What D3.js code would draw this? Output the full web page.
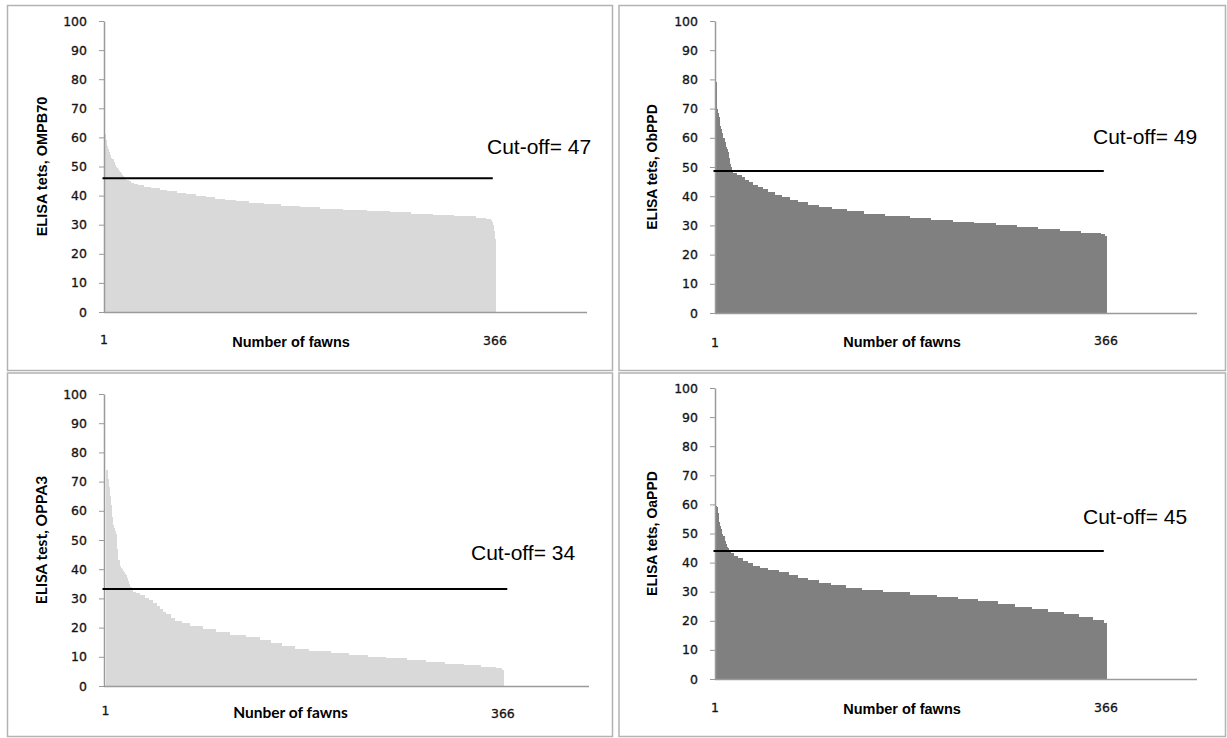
<!DOCTYPE html>
<html>
<head>
<meta charset="utf-8">
<script src="https://cdn.jsdelivr.net/npm/d3@7"></script>
<style>
  body { margin: 0; background: #fff; }
  svg { display: block; }
</style>
</head>
<body>
<svg width="1227" height="738"></svg>
<script>
// ELISA readings of the 366 fawns, sorted high to low.
// Each entry is [value, number of fawns in a row with that value].
let ompb70Runs = [
  [61,1],[59,1],[57,1],[56,1],[55,1],[54,1],[53,1],[52.5,1],[51.5,1],[50.5,1],
  [50,1],[49.5,1],[49,1],[48.5,1],[48,1],[47.6,1],[47.2,1],[46.8,1],[46.4,1],[46,1],
  [45.5,2],[45,2],[44.5,3],[44,4],[43.5,5],[43,7],[42.5,8],[42,7],[41.5,9],[41,9],
  [40.5,9],[40,9],[39.5,9],[39,9],[38.5,10],[38,12],[37.5,14],[37,16],[36.5,18],[36,19],
  [35.5,21],[35,23],[34.7,21],[34.2,20],[33.7,20],[33.3,20],[32.9,20],[32.4,10],[32,4],
  [31.5,1],[31,1],[30,1],[28,1],[25,1],[22,1]
];
let obppdRuns = [
  [79,1],[70,1],[68.5,1],[67,1],[64,1],[63,1],[61.5,1],[60,1],[58.5,1],[57,1],
  [56,1],[55,1],[53,1],[51,1],[50,1],[48.5,1],
  [48,4],[47.3,4],[46.5,3],[45.7,4],[44.8,4],[44,4],[43.2,5],[42.3,5],[41.5,6],[40.5,7],
  [39.7,7],[38.8,8],[38,9],[37.1,10],[36.3,12],[35.5,14],[34.8,16],[34,20],[33.3,23],
  [32.7,20],[32,20],[31.3,20],[30.7,20],[30,20],[29.4,20],[28.8,20],[28.1,20],[27.5,18],
  [27,4],[26.3,3]
];
let oppa3Runs = [
  [74,1],[71,1],[68,1],[65,1],[62,1],[58,1],[55,1],[54,1],[53,1],[52,1],
  [47,1],[43,1],[41,1],[40.5,1],[40,1],[39.5,1],[39,1],[38.5,1],[38,1],[37,1],
  [36,1],[35,1],[34,1],[33,1],
  [32.3,3],[31.8,4],[31,4],[30.3,4],[29.5,4],[28.5,3],[27.5,3],[26.3,3],[25.3,3],[24.5,4],
  [23.3,4],[22.3,6],[21.5,8],[20.5,12],[19.5,12],[18.5,12],[17.5,15],[16.7,13],[15.7,10],
  [14.7,10],[13.7,12],[12.8,13],[12,20],[11.3,17],[10.7,17],[10.1,17],[9.5,19],[8.8,17],
  [8.2,18],[7.7,17],[7.2,16],[6.6,14],[6.1,5],[5.5,3]
];
let oappdRuns = [
  [59.5,1],[59,1],[57,1],[54,1],[52.5,1],[51.5,1],[50,1],[49,1],[47.5,1],[46.5,1],
  [45.5,1],[45,1],[44.3,1],[43.8,1],
  [43.2,3],[42.3,4],[41.5,4],[40.6,5],[39.7,5],[38.9,6],[38.2,8],[37.4,10],[36.6,9],
  [35.7,9],[34.8,9],[33.9,10],[33,11],[32.2,14],[31.4,15],[30.6,20],[29.8,25],[29,25],
  [28.3,20],[27.5,19],[26.7,18],[25.8,16],[24.9,16],[24,15],[23.1,15],[22.2,14],
  [21.2,13],[20.3,10],[19.3,4]
];

// where the black cut-off line was drawn, and the number written next to it
let cutoffLevels = [46, 48.6, 33.2, 44];
let cutoffLabels = ["Cut-off= 47", "Cut-off= 49", "Cut-off= 34", "Cut-off= 45"];
// the line runs out to roughly this fawn position
let cutoffEnds = [363, 363, 369, 363];

let yTitles = ["ELISA tets, OMPB70", "ELISA tets, ObPPD", "ELISA test, OPPA3", "ELISA tets, OaPPD"];
let xTitles = ["Number of fawns", "Number of fawns", "Nunber of fawns", "Number of fawns"];
let yTickValues = [0, 10, 20, 30, 40, 50, 60, 70, 80, 90, 100];
let xEndLabels = ["1", "366"];

let expand = runs => runs.flatMap(([v, n]) => Array(n).fill(v));
let series = [ompb70Runs, obppdRuns, oppa3Runs, oappdRuns].map(expand);

// layout of the four boxes
let layout = [
  { box: [7.5, 5.5, 612.5, 370.5], left: 104, top: 21, bottom: 312, axisEnd: 587, barsStart: 104, barsEnd: 496,
    fill: "#d9d9d9", titleX: 42, titleFont: "Liberation Sans, Arial, sans-serif", titleSize: 14.5,
    xLabelX: 291, xLabelY: 346.5, oneY: 343.5, endY: 345, cutX: 487, cutY: 154 },
  { box: [619, 5.5, 1225.5, 370.5], left: 715, top: 21, bottom: 313, axisEnd: 1197, barsStart: 715, barsEnd: 1107,
    fill: "#808080", titleX: 652, titleFont: "Liberation Sans, Arial, sans-serif", titleSize: 14,
    xLabelX: 902, xLabelY: 347, oneY: 346.5, endY: 345, cutX: 1093, cutY: 143.5 },
  { box: [7.5, 373, 612.5, 736.5], left: 104, top: 394, bottom: 686, axisEnd: 589, barsStart: 105.5, barsEnd: 504,
    fill: "#d9d9d9", titleX: 42, titleFont: "Lato, Open Sans, sans-serif", titleSize: 15.5,
    xLabelX: 290.5, xLabelY: 718, oneY: 715, endY: 718, cutX: 471, cutY: 560 },
  { box: [619, 373, 1225.5, 736.5], left: 715, top: 388, bottom: 679, axisEnd: 1197, barsStart: 715, barsEnd: 1107,
    fill: "#808080", titleX: 652, titleFont: "Liberation Sans, Arial, sans-serif", titleSize: 14,
    xLabelX: 902, xLabelY: 714, oneY: 712, endY: 712, cutX: 1083, cutY: 524 }
];

let svg = d3.select("svg");
let tickFont = "DejaVu Sans, Verdana, sans-serif";
let tickInk = "#141414";

layout.forEach((p, k) => {
  let values = series[k];
  let g = svg.append("g");

  // panel frame
  g.append("rect")
    .attr("x", p.box[0]).attr("y", p.box[1])
    .attr("width", p.box[2] - p.box[0]).attr("height", p.box[3] - p.box[1])
    .attr("fill", "none").attr("stroke", "#b3b3b3").attr("stroke-width", 1.5);

  let y = d3.scaleLinear().domain([0, 100]).range([p.bottom, p.top]);
  let x = d3.scaleBand().domain(d3.range(values.length)).range([p.barsStart, p.barsEnd]).padding(0);
  let step = x.step();

  // bars, snapped to whole pixels and overlapping so no seams show
  g.append("g")
    .attr("shape-rendering", "crispEdges")
    .selectAll("rect")
    .data(values)
    .enter()
    .append("rect")
    .attr("x", (d, i) => x(i))
    .attr("width", (d, i) => i === values.length - 1 ? step : step + 1)
    .attr("y", d => y(d))
    .attr("height", d => y(0) - y(d))
    .attr("fill", p.fill);

  // x axis line
  g.append("line")
    .attr("x1", p.left).attr("x2", p.axisEnd)
    .attr("y1", p.bottom + 0.5).attr("y2", p.bottom + 0.5)
    .attr("stroke", "#9a9a9a").attr("stroke-width", 1.5);

  // y axis
  let yAxis = g.append("g")
    .attr("transform", `translate(${p.left},0)`)
    .call(d3.axisLeft(y).tickValues(yTickValues).tickSize(5).tickSizeOuter(0).tickPadding(12));
  yAxis.select(".domain").attr("stroke", "#9a9a9a").attr("stroke-width", 1.5);
  yAxis.selectAll(".tick line").attr("stroke", "#9a9a9a");
  yAxis.selectAll(".tick text")
    .attr("fill", tickInk)
    .attr("stroke", tickInk).attr("stroke-width", 0.3)
    .style("font-family", tickFont)
    .style("font-size", "12.5px");

  // cut-off line and label
  g.append("line")
    .attr("x1", p.left - 1.5)
    .attr("x2", p.barsStart + cutoffEnds[k] * step)
    .attr("y1", y(cutoffLevels[k])).attr("y2", y(cutoffLevels[k]))
    .attr("stroke", "#000").attr("stroke-width", 2);
  g.append("text")
    .attr("x", p.cutX).attr("y", p.cutY)
    .style("font-family", "Liberation Sans, Arial, sans-serif")
    .style("font-size", "21px")
    .attr("fill", "#000")
    .text(cutoffLabels[k]);

  // y title
  g.append("text")
    .attr("transform", `translate(${p.titleX},${(p.top + p.bottom) / 2}) rotate(-90)`)
    .attr("text-anchor", "middle")
    .attr("dy", "0.35em")
    .style("font-family", p.titleFont)
    .style("font-weight", "bold")
    .style("font-size", p.titleSize + "px")
    .attr("fill", "#000")
    .text(yTitles[k]);

  // x title and the first / last fawn labels
  g.append("text")
    .attr("x", p.xLabelX).attr("y", p.xLabelY)
    .attr("text-anchor", "middle")
    .style("font-family", p.titleFont)
    .style("font-weight", "bold")
    .style("font-size", (k === 2 ? 15.5 : 14.5) + "px")
    .attr("fill", "#000")
    .text(xTitles[k]);
  g.append("text")
    .attr("x", x(0)).attr("y", p.oneY)
    .attr("text-anchor", "middle")
    .style("font-family", tickFont).style("font-size", "12.5px")
    .attr("fill", tickInk).attr("stroke", tickInk).attr("stroke-width", 0.3)
    .text(xEndLabels[0]);
  g.append("text")
    .attr("x", x(values.length - 1)).attr("y", p.endY)
    .attr("text-anchor", "middle")
    .style("font-family", tickFont).style("font-size", "12.5px")
    .attr("fill", tickInk).attr("stroke", tickInk).attr("stroke-width", 0.3)
    .text(xEndLabels[1]);
});
</script>
</body>
</html>
